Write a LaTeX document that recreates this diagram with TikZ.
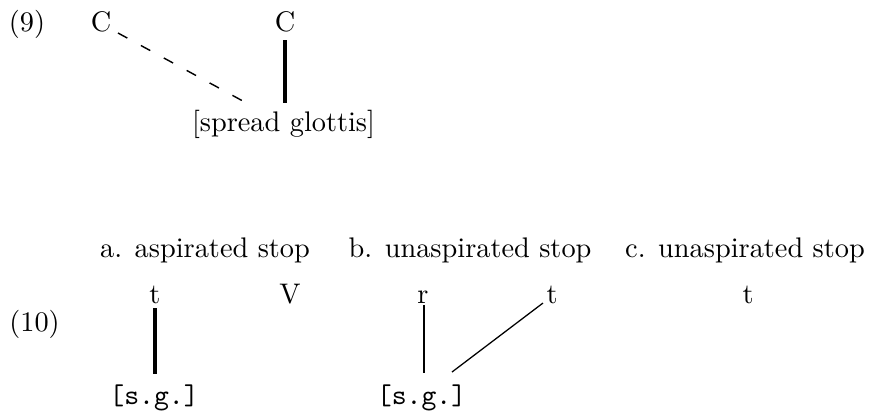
\documentclass[tikz,border=0pt]{standalone}
\usetikzlibrary{calc}
\begin{document}
\begin{tikzpicture}[x=0.35294pt,y=-0.35294pt,
  lbl/.style={inner sep=0pt,anchor=base},
  thickline/.style={line width=1.2pt},
  midline/.style={line width=0.8pt},
  thinline/.style={line width=0.45pt},
  dashline/.style={line width=0.5pt,dash pattern=on 3.75pt off 5.45pt}]
\useasboundingbox (0,0) rectangle (874,412);
% (9)
\node[lbl] (n9) at (27,31) {(9)};
\node[lbl] (C1) at (101,31) {C};
\node[lbl] (C2) at (285,31) {C};
\node[lbl] (sg) at (283.5,131) {[spread glottis]};
\draw[dashline] ($(C1.base)+(17,2)$) -- ($(sg.base)+(-37,-28)$);
\draw[thickline] ($(C2.base)+(0,9)$) -- ($(sg.base)+(1.5,-28)$);
% (10)
\node[lbl] (n10) at (34.5,331) {(10)};
\node[lbl] (capA) at (205,257) {a. aspirated stop};
\node[lbl] (capB) at (470,257) {b. unaspirated stop};
\node[lbl] (capC) at (745,257) {c. unaspirated stop};
\node[lbl] (t1) at (155,303) {t};
\node[lbl] (V) at (290,303) {V};
\node[lbl] (r) at (423,303) {r};
\node[lbl] (t2) at (552,303) {t};
\node[lbl] (t3) at (748,303) {t};
\node[lbl] (sg1) at (154,404) {\texttt{[s.g.]}};
\node[lbl] (sg2) at (421.5,404) {\texttt{[s.g.]}};
\draw[thickline] ($(t1.base)+(0,5)$) -- ($(sg1.base)+(1,-30)$);
\draw[midline] ($(r.base)+(1,2)$) -- ($(sg2.base)+(2.5,-31)$);
\draw[thinline] ($(sg2.base)+(30.5,-32)$) -- ($(t2.base)+(-9,0)$);
\end{tikzpicture}
\end{document}
